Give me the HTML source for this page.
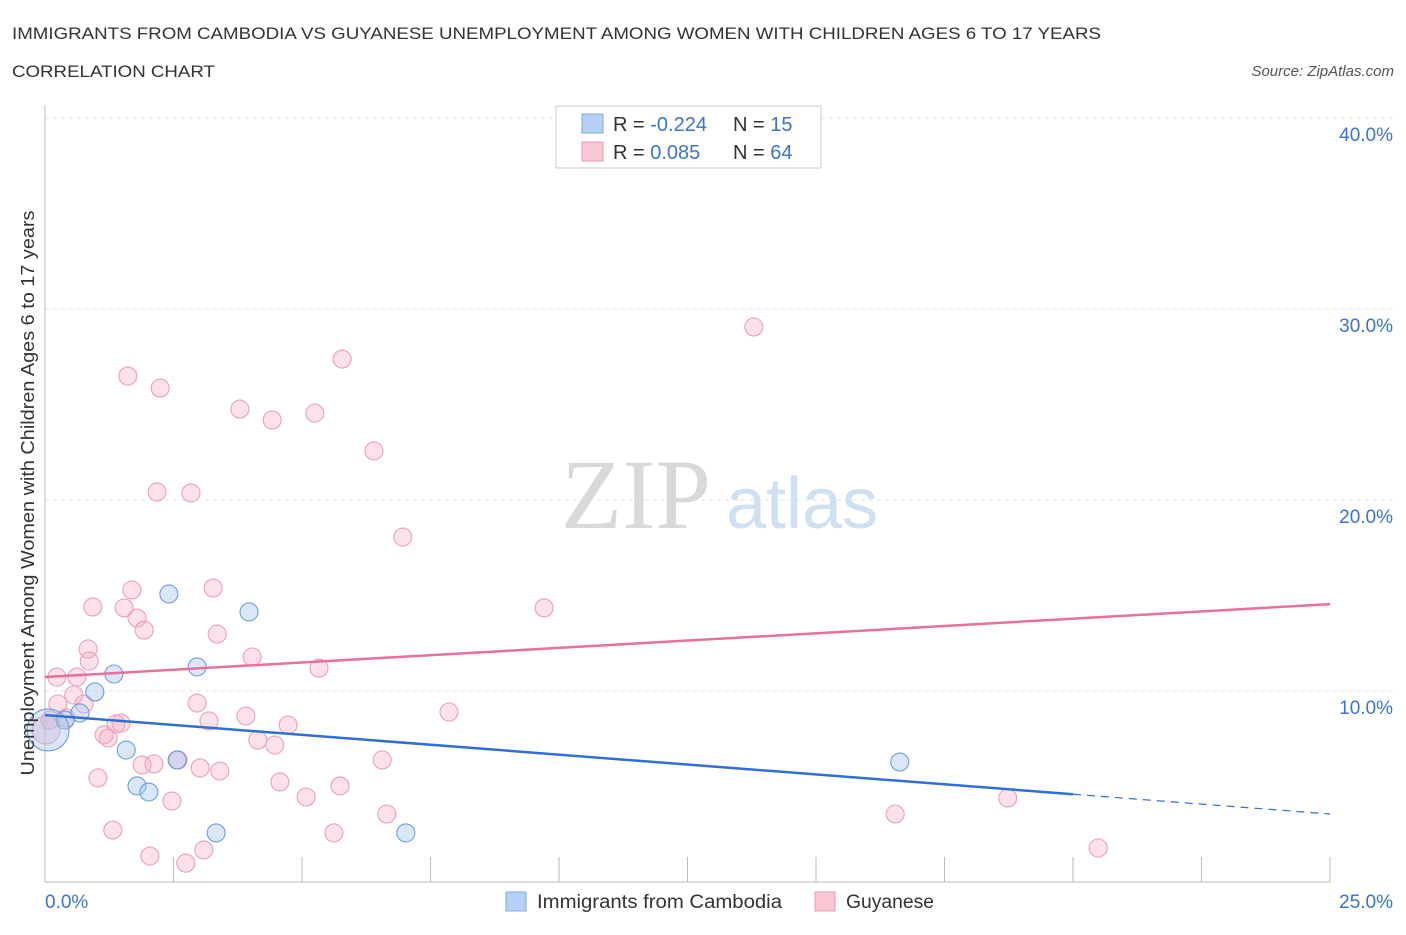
<!DOCTYPE html>
<html><head><meta charset="utf-8"><style>
body{margin:0;background:#fff;font-family:"Liberation Sans",sans-serif;}
svg text{font-family:"Liberation Sans",sans-serif;}
</style></head><body>
<svg id="chart" width="1406" height="930" viewBox="0 0 1406 930">
<text x="12" y="39" font-size="17" fill="#333" textLength="1089" lengthAdjust="spacingAndGlyphs">IMMIGRANTS FROM CAMBODIA VS GUYANESE UNEMPLOYMENT AMONG WOMEN WITH CHILDREN AGES 6 TO 17 YEARS</text>
<text x="12" y="77" font-size="17" fill="#333" textLength="203" lengthAdjust="spacingAndGlyphs">CORRELATION CHART</text>
<text x="1394" y="76" font-size="15" fill="#555" font-style="italic" text-anchor="end">Source: ZipAtlas.com</text>
<g id="grid"></g>
<text x="636" y="528" font-size="100" fill="#d9d9d9" text-anchor="middle" style="font-family:'Liberation Serif',serif">ZIP</text>
<text x="802" y="528" font-size="72" fill="#cfe0f3" text-anchor="middle">atlas</text>
<g id="points"></g>
<g id="lines"></g>
<text transform="translate(34,493) rotate(-90)" font-size="18" fill="#333" text-anchor="middle" textLength="565" lengthAdjust="spacingAndGlyphs">Unemployment Among Women with Children Ages 6 to 17 years</text>
<g>
<rect x="556" y="106" width="265" height="62" fill="#fff" stroke="#ccc"/>
<rect x="582" y="114" width="21" height="19" fill="#b7d0f5" stroke="#7ea8e6"/>
<rect x="582" y="142" width="21" height="19" fill="#f9c6d4" stroke="#ec9ab4"/>
<text x="613" y="131" font-size="20" fill="#333">R = <tspan fill="#3a74d4">-0.224</tspan></text>
<text x="733" y="131" font-size="20" fill="#333">N = <tspan fill="#3a74d4"> 15</tspan></text>
<text x="613" y="159" font-size="20" fill="#333">R = <tspan fill="#3a74d4"> 0.085</tspan></text>
<text x="733" y="159" font-size="20" fill="#333">N = <tspan fill="#3a74d4">64</tspan></text>
</g>
<g>
<rect x="506" y="892" width="20" height="19" fill="#b7d0f5" stroke="#7ea8e6"/>
<text x="537" y="908" font-size="19" fill="#333" textLength="245" lengthAdjust="spacingAndGlyphs">Immigrants from Cambodia</text>
<rect x="815" y="892" width="20" height="19" fill="#f9c6d4" stroke="#ec9ab4"/>
<text x="846" y="908" font-size="19" fill="#333" textLength="88" lengthAdjust="spacingAndGlyphs">Guyanese</text>
</g>
</svg>
<script>
const yTicks=[10,20,30,40];
const yTickLabels=["10.0%","20.0%","30.0%","40.0%"];
const xTickLabels=["0.0%","25.0%"];
const cambX=[2.41,3.97,2.96,1.34,0.97,0.68,0.39,1.58,1.79,2.02,2.57,3.33,7.02,16.63,0.06];
const cambY=[15.08,14.14,11.26,10.89,9.95,8.85,8.48,6.91,5.03,4.71,6.39,2.57,2.57,6.28,7.96];
const guyX=[1.61,2.24,5.78,3.79,4.42,5.25,6.40,2.18,2.84,6.96,13.79,9.71,0.93,1.69,3.27,1.54,1.79,1.93,3.35,0.84,0.86,4.03,5.33,0.23,0.62,0.56,2.96,0.76,0.25,7.86,3.91,3.19,1.38,1.48,4.73,4.14,1.15,1.23,4.47,1.89,2.12,3.02,3.40,6.56,1.03,4.57,5.74,5.08,2.47,6.65,1.32,5.62,2.04,2.74,3.09,16.54,18.73,20.49,0.10,0.41,2.59,0.02,12.39];
const guyY=[26.49,25.86,27.38,24.76,24.19,24.55,22.57,20.42,20.37,18.06,29.06,14.35,14.40,15.29,15.39,14.35,13.82,13.19,12.98,12.20,11.57,11.78,11.20,10.73,10.73,9.79,9.37,9.32,9.32,8.90,8.69,8.43,8.27,8.32,8.22,7.43,7.70,7.54,7.17,6.13,6.18,5.97,5.81,6.39,5.45,5.24,5.03,4.45,4.24,3.56,2.72,2.57,1.36,0.99,1.68,3.56,4.40,1.78,8.48,8.59,6.39,7.96,39.3];
const guyTrend=[10.73,14.55];
const cambTrend=[8.74,3.56];
const cambSolidEnd=20;
const NS="http://www.w3.org/2000/svg";
const X0=45,X1=1330,Y0=882,YPER=19.1;
function sx(v){return X0+(X1-X0)*v/25;}
function sy(v){return Y0-v*YPER;}
function mk(tag,attrs,parent){const e=document.createElementNS(NS,tag);for(const k in attrs)e.setAttribute(k,attrs[k]);parent.appendChild(e);return e;}
const grid=document.getElementById('grid');
yTicks.forEach((t,i)=>{
  const l=mk('line',{x1:X0,x2:1395,y1:sy(t),y2:sy(t),stroke:'#e2e2e2','stroke-dasharray':'4,4'},grid);
  
  
  const tx=mk('text',{x:1393,y:sy(t)+23,'font-size':19,fill:'#3a74d4','text-anchor':'end'},grid);
  tx.textContent=yTickLabels[i];
  
  
});
const ax=mk('line',{x1:X0,x2:X0,y1:105,y2:Y0,stroke:'#bbb'},grid);


const bx=mk('line',{x1:X0,x2:X1,y1:Y0,y2:Y0,stroke:'#bbb'},grid);


for(let i=1;i<=10;i++){const x=X0+(X1-X0)*i/10;const t=mk('line',{x1:x,x2:x,y1:Y0-25,y2:Y0,stroke:'#bbb'},grid);

}
[0,25].forEach((v,i)=>{const t=mk('text',{x:i?1393:45,y:908,'font-size':19,fill:'#3a74d4','text-anchor':i?'end':'start'},grid);t.textContent=xTickLabels[i];

});
const pts=document.getElementById('points');
guyX.forEach((x,i)=>{const c=mk('circle',{cx:sx(x),cy:sy(guyY[i]),r:i==61?14:9,fill:'rgba(246,168,192,0.35)',stroke:'#eca0b8','stroke-width':1.1},pts);

});
cambX.forEach((x,i)=>{const c=mk('circle',{cx:sx(x),cy:sy(cambY[i]),r:i==14?21:9,fill:'rgba(160,196,240,0.4)',stroke:'#6a9fe0','stroke-width':1.1},pts);

});
const ln=document.getElementById('lines');
const gl=mk('line',{x1:sx(0),y1:sy(guyTrend[0]),x2:sx(25),y2:sy(guyTrend[1]),stroke:'#e8709a','stroke-width':2.5},ln);


const cMid=cambTrend[0]+(cambTrend[1]-cambTrend[0])*cambSolidEnd/25;
const cl=mk('line',{x1:sx(0),y1:sy(cambTrend[0]),x2:sx(cambSolidEnd),y2:sy(cMid),stroke:'#2f6fd6','stroke-width':2.5},ln);


const cd=mk('line',{x1:sx(cambSolidEnd),y1:sy(cMid),x2:sx(25),y2:sy(cambTrend[1]),stroke:'#2f6fd6','stroke-width':1.2,'stroke-dasharray':'8,6'},ln);


</script>
</body></html>
